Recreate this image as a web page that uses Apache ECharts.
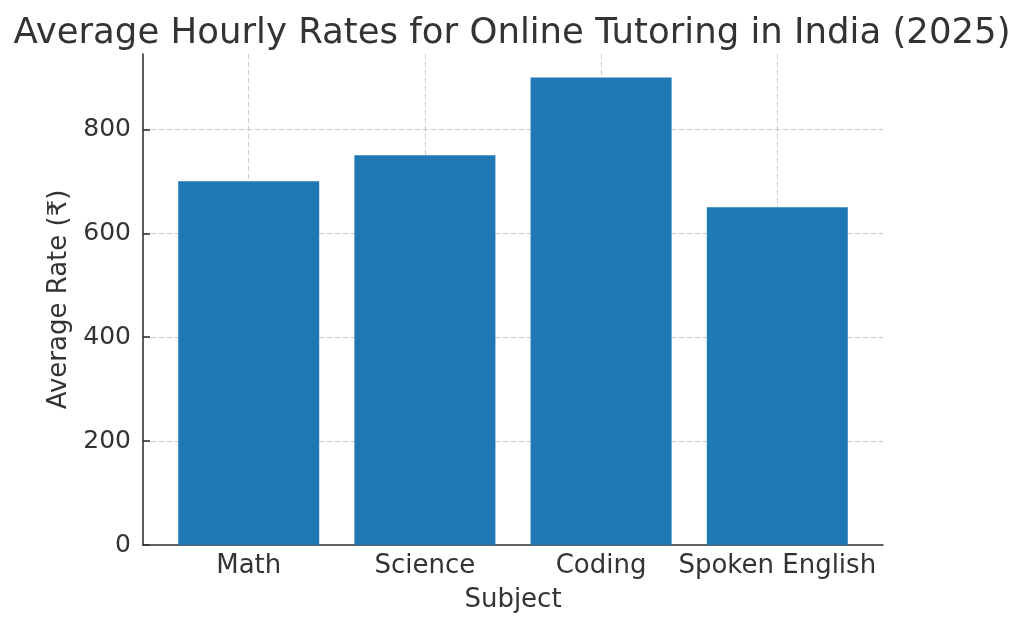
<!DOCTYPE html>
<html><head><meta charset="utf-8">
<script src="https://cdn.jsdelivr.net/npm/echarts@6/dist/echarts.min.js"></script>
<style>html,body{margin:0;padding:0;background:#fff}#c{width:1024px;height:630px}</style>
</head><body><div id="c"></div>
<script>
const categories = ["Math", "Science", "Coding", "Spoken English"];
const rates = [700, 750, 900, 650];
const yTicks = [0, 200, 400, 600, 800];
const titleText = "Average Hourly Rates for Online Tutoring in India (2025)";
const xName = "Subject";
const yName = "Average Rate (₹)";

const positions = categories.map((c, i) => i);
const font = "DejaVu Sans";
const txt = "#333333";
const chart = echarts.init(document.getElementById('c'), null, {renderer: 'canvas'});
chart.setOption({
  animation: false,
  title: {text: titleText, left: 'center', top: 11,
    textStyle: {fontFamily: font, fontSize: 35.5, fontWeight: 'normal', color: txt}},
  grid: {left: 143, right: 141, top: 54, bottom: 85},
  xAxis: {
    type: 'value', min: -0.6, max: 3.6,
    name: xName, nameLocation: 'middle', nameGap: 42,
    nameTextStyle: {fontFamily: font, fontSize: 26, color: txt},
    axisLine: {show: true, onZero: false, lineStyle: {color: txt, width: 1.6}},
    axisTick: {show: true, inside: true, length: 7, customValues: positions, lineStyle: {color: txt, width: 1.6}},
    axisLabel: {customValues: positions, formatter: v => categories[Math.round(v)] ?? '',
      fontFamily: font, fontSize: 26, color: txt, margin: 8},
    splitLine: {show: true, lineStyle: {color: '#cccccc', type: [5, 3], width: 1}}
  },
  yAxis: {
    type: 'value', min: 0, max: 945,
    name: yName, nameLocation: 'middle', nameGap: 67,
    nameTextStyle: {fontFamily: font, fontSize: 26, color: txt},
    axisLine: {show: true, onZero: false, lineStyle: {color: txt, width: 1.6}},
    axisTick: {show: true, inside: true, length: 7, customValues: yTicks, lineStyle: {color: txt, width: 1.6}},
    axisLabel: {customValues: yTicks, fontFamily: font, fontSize: 25, color: txt, margin: 12},
    splitLine: {show: true, lineStyle: {color: '#cccccc', type: [5, 3], width: 1}}
  },
  series: [{
    type: 'bar', barWidth: 141, z: 1,
    data: positions.map((p, i) => [p, rates[i]]),
    itemStyle: {color: '#1f77b4'}
  }]
});
</script></body></html>
